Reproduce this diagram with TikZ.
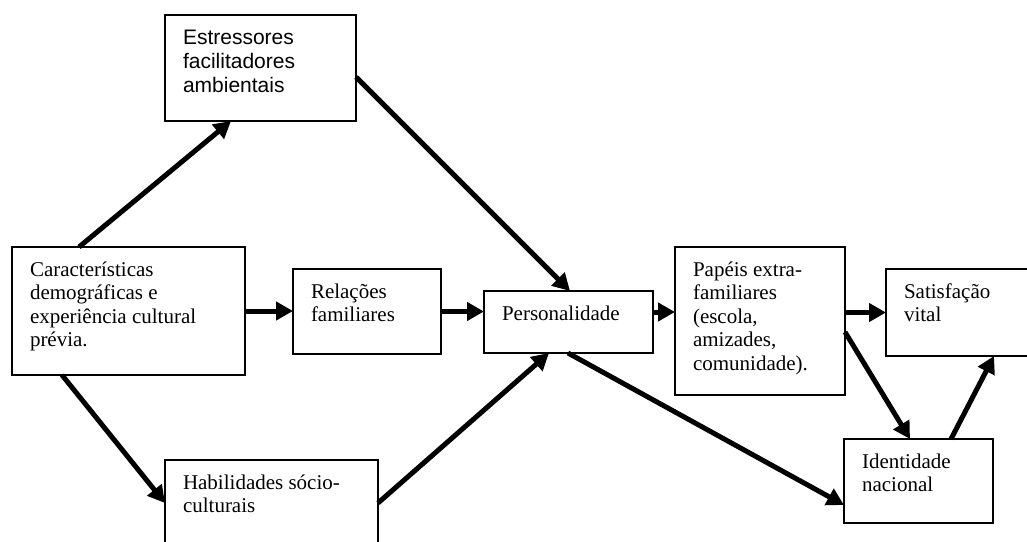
\documentclass[tikz,border=0pt]{standalone}
\usepackage{fontspec}
\setmainfont{Liberation Serif}
\newfontfamily\arialfont{Liberation Sans}
\usetikzlibrary{arrows.meta}

\newcommand{\boxtxt}[3]{\parbox[t][#2][t]{#1}{\raggedright\strut #3}}

\begin{document}
\begin{tikzpicture}[x=1pt, y=-1pt, font=\fontsize{21}{23.5}\selectfont,
  box/.style={draw, line width=1.5pt, anchor=north west, inner xsep=18pt, inner ysep=13pt, outer sep=0pt},
  seta/.style={line width=5pt, -{Triangle[length=17pt,width=18pt]}}]

\useasboundingbox (0,0) rectangle (1027,541);

\node[box] (est) at (165,15) {\arialfont\fontsize{21}{24}\selectfont\boxtxt{155pt}{80pt}{Estressores\\facilitadores\\ambientais}};
\node[box] (car) at (12,247) {\boxtxt{197pt}{102pt}{Características\\demográficas e\\experiência cultural\\prévia.}};
\node[box] (rel) at (293,269) {\boxtxt{112pt}{59pt}{Relações\\familiares}};
\node[box] (per) at (484,291) {\boxtxt{133pt}{36pt}{Personalidade}};
\node[box] (pap) at (675,247) {\boxtxt{134pt}{122pt}{Papéis extra-\\familiares\\(escola,\\amizades,\\comunidade).}};
\node[box] (sat) at (886,269) {\boxtxt{118pt}{61pt}{Satisfação\\vital}};
\node[box] (ide) at (844,439) {\boxtxt{113pt}{58pt}{Identidade\\nacional}};
\node[box] (hab) at (165,460) {\boxtxt{177pt}{84pt}{Habilidades sócio-\\culturais}};

\draw[seta] ([xshift=67pt]car.north west) -- ([xshift=66pt]est.south west);
\draw[seta] ([yshift=-9pt]est.east) -- ([xshift=86pt]per.north west);
\draw[seta] (car.east) -- (car.east -| rel.west);
\draw[seta] (rel.east) -- (rel.east -| per.west);
\draw[seta] ([yshift=10pt]per.east) -- ([yshift=10pt]per.east -| pap.west);
\draw[seta] ([xshift=50pt]car.south west) -- ([yshift=-43pt]hab.north west);
\draw[seta] ([yshift=-43pt]hab.north east) -- ([xshift=65pt]per.south west);
\draw[seta] ([xshift=84pt]per.south west) -- ([yshift=-66pt]ide.north west);
\draw[seta] (sat.west -| pap.east) -- (sat.west);
\draw[seta] ([yshift=-11pt]pap.east) -- ([xshift=66pt]ide.north west);
\draw[seta] ([xshift=107pt]ide.north west) -- ([xshift=108pt]sat.south west);
\end{tikzpicture}
\end{document}
